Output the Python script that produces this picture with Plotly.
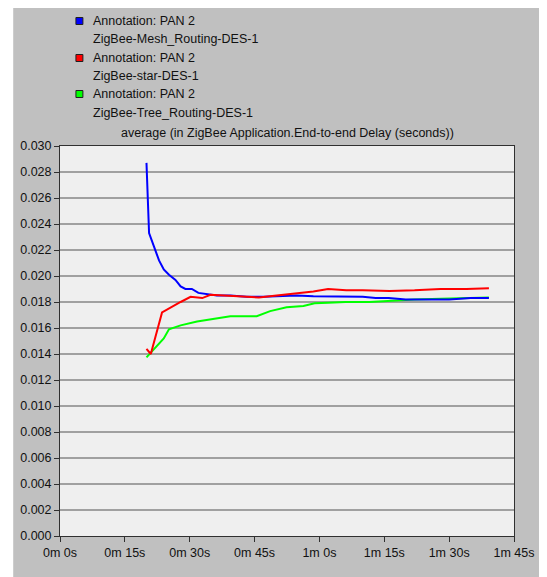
import plotly.graph_objects as go

# ---------------- data ----------------
mesh_t = [20, 20.6, 21.7, 22.9, 24, 25.2, 26.7, 27.9, 29, 30.5, 32, 34, 36.3, 39.4,
          43.2, 47, 50.9, 54.7, 58.6, 62.4, 66.2, 70, 73, 76, 80, 85, 90, 95, 99.2]
mesh_v = [0.0287, 0.0233, 0.0223, 0.0212, 0.0205, 0.0201, 0.0197, 0.0192, 0.0190,
          0.0190, 0.0187, 0.0186, 0.0185, 0.0185, 0.0184, 0.0184, 0.01845, 0.0185,
          0.01845, 0.01845, 0.0184, 0.0184, 0.0183, 0.0183, 0.0182, 0.0182, 0.0182,
          0.0183, 0.0183]

star_t = [20, 21, 23.6, 25.6, 27.9, 30.2, 32.9, 34.8, 37.5, 41.7, 46, 50.1, 54.7,
          58.6, 62, 66.2, 70, 76.2, 82, 88, 94, 99.2]
star_v = [0.0144, 0.0140, 0.0172, 0.0176, 0.0180, 0.0184, 0.0183, 0.01855, 0.0185,
          0.0184, 0.01835, 0.0185, 0.01867, 0.0188, 0.0190, 0.0189, 0.0189, 0.01885,
          0.0189, 0.0190, 0.0190, 0.01905]

tree_t = [20, 21, 22.5, 24, 25.2, 27.9, 31.7, 35.5, 39.4, 43.2, 45.5, 48.6, 52.4,
          56.3, 58.9, 62, 66, 71.6, 76.2, 82, 88, 94, 99.2]
tree_v = [0.01374, 0.0141, 0.0146, 0.0152, 0.0159, 0.0162, 0.0165, 0.0167, 0.0169,
          0.0169, 0.0169, 0.0173, 0.0176, 0.0177, 0.0179, 0.01795, 0.0180, 0.0180,
          0.0181, 0.0182, 0.01825, 0.0183, 0.01835]

x_tick_vals = [0, 15, 30, 45, 60, 75, 90, 105]
x_tick_text = ["0m 0s", "0m 15s", "0m 30s", "0m 45s", "1m 0s", "1m 15s", "1m 30s", "1m 45s"]
y_tick_vals = [i * 0.002 for i in range(16)]

legend_names = ["ZigBee-Mesh_Routing-DES-1", "ZigBee-star-DES-1", "ZigBee-Tree_Routing-DES-1"]
legend_colors = ["#0000ff", "#ff0000", "#00ff00"]
title_text = "average (in ZigBee Application.End-to-end Delay (seconds))"

# ---------------- layout geometry (page has an 8px body margin) ----------------
OFF = 8
W, H = 547 - OFF, 577 - OFF
L, R, T, B = 59 - OFF, 515 - OFF, 146 - OFF, 536 - OFF
FONT = "Liberation Sans, Arial, sans-serif"


def px(x):
    # x given in screenshot pixels
    return (x - OFF - L) / (R - L)


def py(y):
    return (B - (y - OFF)) / (B - T)


fig = go.Figure()
# draw order: green, blue, red (red on top)
fig.add_trace(go.Scatter(x=tree_t, y=tree_v, mode="lines",
                         line=dict(color=legend_colors[2], width=2), showlegend=False))
fig.add_trace(go.Scatter(x=mesh_t, y=mesh_v, mode="lines",
                         line=dict(color=legend_colors[0], width=2), showlegend=False))
fig.add_trace(go.Scatter(x=star_t, y=star_v, mode="lines",
                         line=dict(color=legend_colors[1], width=2), showlegend=False))

shapes = [
    # white strip on the left of the image
    dict(type="rect", xref="paper", yref="paper", x0=px(0), x1=px(12), y0=py(H + OFF + 5), y1=py(0),
         fillcolor="white", line=dict(width=0), layer="below"),
]
annotations = []
row_y = [21, 39, 58, 76, 94, 113]
for i, (name, col) in enumerate(zip(legend_names, legend_colors)):
    yc = row_y[2 * i]
    shapes.append(dict(type="rect", xref="paper", yref="paper",
                       x0=px(75), x1=px(82), y0=py(yc + 3.5), y1=py(yc - 3.5),
                       fillcolor=col, line=dict(color="#202020", width=1)))
    annotations.append(dict(xref="paper", yref="paper", x=px(90), y=py(yc),
                            text="Annotation: PAN 2", showarrow=False,
                            xanchor="left", yanchor="middle",
                            font=dict(family=FONT, size=12.5, color="#111")))
    annotations.append(dict(xref="paper", yref="paper", x=px(90), y=py(row_y[2 * i + 1]),
                            text=name, showarrow=False,
                            xanchor="left", yanchor="middle",
                            font=dict(family=FONT, size=12.5, color="#111")))

annotations.append(dict(xref="paper", yref="paper", x=0.5, y=py(133),
                        text=title_text, showarrow=False,
                        xanchor="center", yanchor="middle",
                        font=dict(family=FONT, size=12.5, color="#111")))

fig.update_layout(
    width=W, height=H,
    margin=dict(l=L, r=W - R, t=T, b=H - B, pad=0),
    paper_bgcolor="#c0c0c0",
    plot_bgcolor="#efefef",
    shapes=shapes,
    annotations=annotations,
    showlegend=False,
    font=dict(family=FONT, size=12.5, color="#111"),
)
fig.update_xaxes(range=[0, 105], tickvals=x_tick_vals, ticktext=x_tick_text,
                 showgrid=False, zeroline=False, showline=True, mirror=True,
                 linecolor="#303030", linewidth=1, ticks="outside", ticklen=5,
                 tickcolor="#303030", tickfont=dict(family=FONT, size=12.5, color="#111"))
fig.update_yaxes(range=[0, 0.030], tickvals=y_tick_vals, tickformat=".3f",
                 showgrid=True, gridcolor="#a0a0a0", gridwidth=1.5, zeroline=False,
                 showline=True, mirror=True, linecolor="#303030", linewidth=1,
                 ticks="outside", ticklen=5, tickcolor="#303030",
                 tickfont=dict(family=FONT, size=12.5, color="#111"))

fig.write_html("out.html")
